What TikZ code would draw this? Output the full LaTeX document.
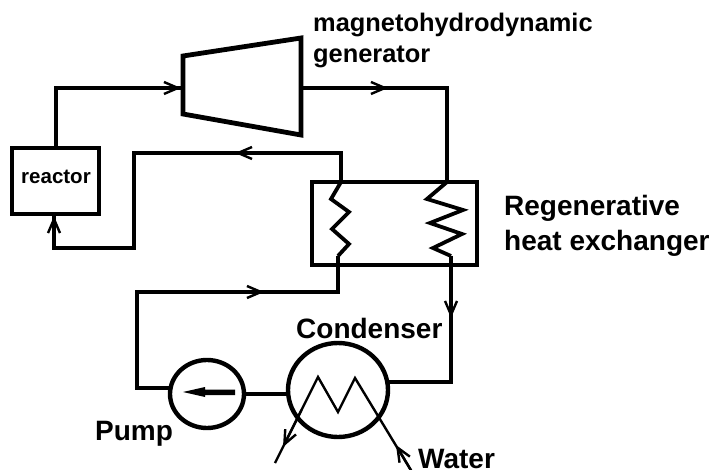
\documentclass[tikz,border=0pt]{standalone}
\usepackage{fontspec}
\setmainfont{Liberation Sans}
\usetikzlibrary{shapes.geometric,arrows.meta}
\tikzset{
  wire/.style={line width=4.2pt,line join=miter,line cap=butt},
  thin wire/.style={line width=2.4pt,line join=miter},
  flow/.style={-{Straight Barb[length=14pt,width=12pt,line width=2.4pt]}},
  box/.style={draw,line width=4.6pt,rectangle,inner sep=0pt,outer sep=0pt,fill=white},
  round part/.style={draw,line width=4.4pt,ellipse,inner sep=0pt,outer sep=0pt,fill=white},
  label/.style={inner sep=0pt,anchor=base west,align=left,font=\bfseries\fontsize{28}{32}\selectfont}
}
\begin{document}
\begin{tikzpicture}[x=1pt,y=-1pt]
\useasboundingbox (0,0) rectangle (712,470);
% parts
\node[box,minimum width=87pt,minimum height=66pt] (reactor) at (55.5,181) {};
\node[font=\bfseries\fontsize{20.5}{24}\selectfont,inner sep=0pt] (reactorlabel) at (56,177) {reactor};
\node[box,minimum width=165pt,minimum height=83pt] (hx) at (394.5,223.5) {};
\node[round part,minimum width=74pt,minimum height=68pt] (pump) at (207,394) {};
\node[round part,minimum width=100pt,minimum height=94pt] (cond) at (338,390) {};
\coordinate (t1) at (183,56); \coordinate (t2) at (301,38);
\coordinate (t3) at (301,135); \coordinate (t4) at (183,114);
\draw[wire,line width=4.8pt] (t1) -- (t2) -- (t3) -- (t4) -- cycle;
% junctions
\coordinate (genin) at (183,88); \coordinate (genout) at (301,88);
\coordinate (c1) at (56,88); \coordinate (m1) at (181,88);
\coordinate (c2) at (447,88); \coordinate (m2) at (388,88);
\coordinate (c3) at (341,153); \coordinate (m3) at (235,153);
\coordinate (c4) at (134,153); \coordinate (c5) at (134,248);
\coordinate (c6) at (54,248); \coordinate (m4) at (54,216);
\coordinate (l1) at (341,182); \coordinate (l2) at (338,256);
\coordinate (c7) at (338,292); \coordinate (c8) at (137,292);
\coordinate (m5) at (264,292);
\coordinate (c9) at (pump.171 -| c8);
\coordinate (r1) at (447,182); \coordinate (r2) at (451,256);
\coordinate (m6) at (451,318);
\coordinate (c10) at (cond.9 -| r2);
% connectors
\draw[wire] (reactor.north -| c1) -- (c1) -- (genin);
\draw[wire,flow] (c1) -- (m1);
\draw[wire] (genout) -- (c2) -- (r1);
\draw[wire,flow] (genout) -- (m2);
\draw[wire] (l1) -- (c3) -- (c4) -- (c5) -- (c6) -- (reactor.south -| c6);
\draw[wire,flow] (c3) -- (m3);
\draw[wire,flow] (c6) -- (m4);
\draw[wire] (l2) -- (c7) -- (c8) -- (c9) -- (pump.171);
\draw[wire,flow] (c8) -- (m5);
\draw[wire] (r2) -- (c10) -- (cond.9);
\draw[wire,flow] (r2) -- (m6);
\draw[wire] (cond.west |- pump.east) -- (pump.east);
% coils
\draw[wire,line width=3.8pt] (l1) -- (331,199) -- (349,212) -- (332,229) -- (349,244) -- (l2);
\draw[wire,line width=3.8pt] (r1) -- (427,199) -- (463,210) -- (430,223) -- (462,234) -- (433,248) -- (r2);
% condenser coil
\coordinate (wout) at (275,463); \coordinate (win) at (412,472);
\coordinate (m7) at (283,447); \coordinate (m8) at (396,445);
\draw[thin wire] (wout) -- (318,377) -- (338,412) -- (355,378) -- (win);
\draw[thin wire,flow] (301.5,410) -- (m7);
\draw[thin wire,flow] (win) -- (m8);
% pump arrow
\fill (235,389.5) -- (205,389.5) -- (205,387) -- (183,392) -- (205,397) -- (205,395) -- (235,395) -- cycle;
% labels
\node[label,font=\bfseries\fontsize{25.4}{30}\selectfont] (gen1) at (313,32) {magnetohydrodynamic};
\node[label,font=\bfseries\fontsize{25.4}{30}\selectfont] (gen2) at (313,63) {generator};
\node[label] (hx1) at (504,216) {Regenerative};
\node[label] (hx2) at (504,251) {heat exchanger};
\node[label] (condl) at (296,338) {Condenser};
\node[label] (pumpl) at (95,440) {Pump};
\node[label] (water) at (418,468) {Water};
\end{tikzpicture}
\end{document}
